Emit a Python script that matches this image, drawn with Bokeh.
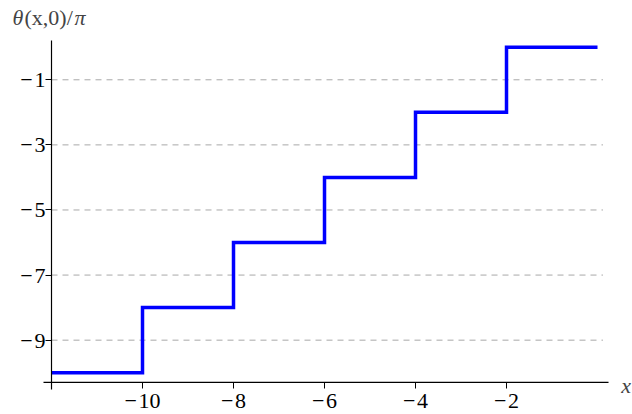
from bokeh.plotting import figure
from bokeh.models import Range1d, FixedTicker, Label
from bokeh.embed import file_html
from bokeh.resources import INLINE

# data
step_x = [-12, -10, -8, -6, -4, -2, 0]
step_y = [-10, -8, -6, -4, -2, 0, 0]
xtick_vals = [-10, -8, -6, -4, -2]
xtick_labels = ["\u2212\u200a10", "\u2212\u200a8", "\u2212\u200a6", "\u2212\u200a4", "\u2212\u200a2"]
ytick_vals = [-9, -7, -5, -3, -1]
ytick_labels = ["\u2212\u200a9", "\u2212\u200a7", "\u2212\u200a5", "\u2212\u200a3", "\u2212\u200a1"]
x_axis_at = -10.3
y_axis_at = -12.0
y_line_halfwidth = 0.013
x_axis_span = (-12.176, 0.242)
y_axis_span = (-10.516, 0.206)
grid_span = (-12.0, 0.12)

FONT = "Liberation Serif"
FS = "22px"

p = figure(width=632, height=414, output_backend="svg", toolbar_location=None,
           x_range=Range1d(-13.121, 0.769), y_range=Range1d(-11.284, 1.436),
           min_border=0)
p.outline_line_color = None
p.background_fill_color = "white"
p.border_fill_color = "white"
p.grid.visible = False

# dashed grid lines at the y ticks
p.segment(x0=[grid_span[0]] * len(ytick_vals), x1=[grid_span[1]] * len(ytick_vals),
          y0=ytick_vals, y1=ytick_vals,
          line_color="#a8a8a8", line_width=1, line_dash="6 5")

p.step(step_x, step_y, mode="after", line_color="#0000ff", line_width=3.5, line_join="miter")

# axis lines (crossing, Mathematica style)
p.quad(left=[y_axis_at - y_line_halfwidth], right=[y_axis_at + y_line_halfwidth],
       bottom=[y_axis_span[0]], top=[y_axis_span[1]],
       fill_color="#000000", line_color=None, level="overlay")
p.segment(x0=[x_axis_span[0]], y0=[x_axis_at], x1=[x_axis_span[1]], y1=[x_axis_at],
          line_color="#000000", line_width=1.2, level="overlay")

for ax in (p.xaxis[0], p.yaxis[0]):
    ax.axis_line_color = None
    ax.major_tick_line_color = "black"
    ax.major_tick_line_width = 1
    ax.major_tick_in = 0
    ax.major_tick_out = 6
    ax.minor_tick_line_color = None
    ax.major_label_text_font = FONT
    ax.major_label_text_font_size = FS
    ax.major_label_text_color = "black"

p.xaxis.ticker = FixedTicker(ticks=xtick_vals)
p.xaxis.major_label_overrides = dict(zip(xtick_vals, xtick_labels))
p.xaxis.fixed_location = x_axis_at
p.xaxis.major_label_standoff = 0

p.yaxis.ticker = FixedTicker(ticks=ytick_vals)
p.yaxis.major_label_overrides = dict(zip(ytick_vals, ytick_labels))
p.yaxis.fixed_location = y_axis_at
p.yaxis.major_label_standoff = 0

# axis titles
p.add_layout(Label(x=-12.857, y=0.91, text="\u03b8", text_font=FONT, text_font_style="italic",
                   text_font_size=FS, text_baseline="middle", text_align="left"))
p.add_layout(Label(x=-12.857, y=0.91, x_offset=12, text="(x,0)/", text_font=FONT,
                   text_font_size=FS, text_baseline="middle", text_align="left"))
p.add_layout(Label(x=-12.857, y=0.91, x_offset=62, text="\u03c0", text_font=FONT, text_font_style="italic",
                   text_font_size=FS, text_baseline="middle", text_align="left"))
p.add_layout(Label(x=0.52, y=-10.39, text="x", text_font=FONT, text_font_style="italic",
                   text_font_size=FS, text_baseline="middle", text_align="left"))

open("out.html", "w").write(file_html(p, INLINE))
